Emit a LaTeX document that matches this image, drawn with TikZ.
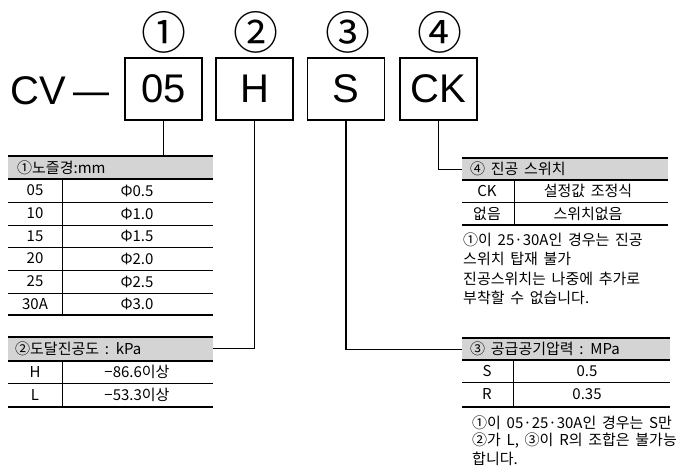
\documentclass[tikz,border=0pt]{standalone}
\usepackage{fontspec}
\setmainfont{Liberation Sans}
\newfontfamily\kr{Noto Sans CJK KR}[WordSpace=1.7]
\definecolor{hdrgray}{RGB}{212,212,212}
\tikzset{
  big/.style={font=\fontsize{40bp}{40bp}\selectfont},
  codebox/.style={draw, line width=1.3bp, minimum width=77bp, minimum height=62bp, inner sep=0pt, big},
  circnum/.style={font=\kr\fontsize{45bp}{45bp}\selectfont, inner sep=0pt},
  tx/.style={font=\kr\fontsize{15bp}{18bp}\selectfont, inner sep=0pt},
  heavyrule/.style={line width=2.3bp},
  lightrule/.style={line width=0.8bp},
  hdr/.style={fill=hdrgray, draw=none, inner sep=0pt, minimum height=23bp, anchor=north west},
  conn/.style={line width=1.1bp},
}
\begin{document}
\begin{tikzpicture}[x=1bp,y=-1bp]
\useasboundingbox (0,0) rectangle (683,468);
\fill[white] (0,0) rectangle (683,468);

% title
\node[big, anchor=base west, inner sep=0pt] (cv) at (10,105) {CV\kern8bp\scalebox{0.9}[1]{—}};
\node[codebox] (b1) at (163.5,89) {05};
\node[codebox] (b2) at (254.5,89) {H};
\node[codebox] (b3) at (346,89) {S};
\node[codebox] (b4) at (438.5,89) {CK};
\node[circnum] (c1) at (164,32) {①};
\node[circnum] (c2) at (256,32) {②};
\node[circnum] (c3) at (348,32) {③};
\node[circnum] (c4) at (440,32) {④};

% ---- table 1
\node[hdr, minimum width=205bp] (h1) at (8,156) {};
\node[tx, anchor=west] (h1t) at (17,167.5) {①노즐경:mm};
\draw[heavyrule] (8,156) -- (213,156) (8,179) -- (213,179) (8,315) -- (213,315);
\draw[lightrule] (8,202) -- (213,202) (8,225) -- (213,225) (8,247) -- (213,247)
                 (8,270) -- (213,270) (8,293) -- (213,293) (62,179) -- (62,315);
\node[tx] (r1a) at (35,190.5) {05};  \node[tx] (r1b) at (137,190.5) {Φ0.5};
\node[tx] (r2a) at (35,213.5) {10};  \node[tx] (r2b) at (137,213.5) {Φ1.0};
\node[tx] (r3a) at (35,236) {15};    \node[tx] (r3b) at (137,236) {Φ1.5};
\node[tx] (r4a) at (35,258.5) {20};  \node[tx] (r4b) at (137,258.5) {Φ2.0};
\node[tx] (r5a) at (35,281.5) {25};  \node[tx] (r5b) at (137,281.5) {Φ2.5};
\node[tx] (r6a) at (35,304) {30A};   \node[tx] (r6b) at (137,304) {Φ3.0};

% ---- table 2
\node[hdr, minimum width=205bp] (h2) at (8,337) {};
\node[tx, anchor=west] (h2t) at (15,348.5) {②도달진공도 : kPa};
\draw[heavyrule] (8,337) -- (213,337) (8,361) -- (213,361) (8,407) -- (213,407);
\draw[lightrule] (8,383) -- (213,383) (62,361) -- (62,407);
\node[tx] (s1a) at (35,372) {H};  \node[tx] (s1b) at (137,372) {−86.6이상};
\node[tx] (s2a) at (35,395) {L};  \node[tx] (s2b) at (137,395) {−53.3이상};

% ---- table 4 (vacuum switch)
\node[hdr, minimum width=206bp, minimum height=22bp] (h4) at (462,158) {};
\node[tx, anchor=west] (h4t) at (470,169) {④ 진공 스위치};
\draw[heavyrule] (462,158) -- (668,158) (462,180) -- (668,180) (462,225) -- (668,225);
\draw[lightrule] (462,202) -- (668,202) (514,180) -- (514,225);
\node[tx] (v1a) at (487,191) {CK};   \node[tx] (v1b) at (588,191) {설정값 조정식};
\node[tx] (v2a) at (487,213.5) {없음}; \node[tx] (v2b) at (588,213.5) {스위치없음};
\node[tx, anchor=west] (n4a) at (463,240) {①이 25·30A인 경우는 진공};
\node[tx, anchor=west] (n4b) at (463,259) {스위치 탑재 불가};
\node[tx, anchor=west] (n4c) at (463,279) {진공스위치는 나중에 추가로};
\node[tx, anchor=west] (n4d) at (463,298) {부착할 수 없습니다.};

% ---- table 3 (supply pressure)
\node[hdr, minimum width=208bp, minimum height=22bp] (h3) at (462,338) {};
\node[tx, anchor=west] (h3t) at (470,349) {③ 공급공기압력 : MPa};
\draw[heavyrule] (462,338) -- (670,338) (462,360) -- (670,360) (462,407) -- (670,407);
\draw[lightrule] (462,382) -- (670,382) (513,360) -- (513,407);
\node[tx] (p1a) at (487,371) {S};  \node[tx] (p1b) at (587,371) {0.5};
\node[tx] (p2a) at (487,394.5) {R}; \node[tx] (p2b) at (587,394.5) {0.35};
\node[tx, anchor=west] (n3a) at (472,423) {①이 05·25·30A인 경우는 S만};
\node[tx, anchor=west] (n3b) at (472,441) {②가 L, ③이 R의 조합은 불가능};
\node[tx, anchor=west] (n3c) at (472,459) {합니다.};

% ---- connectors
\draw[conn] (b1.south) -- (b1.south |- h1.north);
\draw[conn] (b2.south) |- (h2.east);
\draw[conn] (b3.south) |- (h3.west);
\draw[conn] (b4.south) |- (h4.west);
\end{tikzpicture}
\end{document}
